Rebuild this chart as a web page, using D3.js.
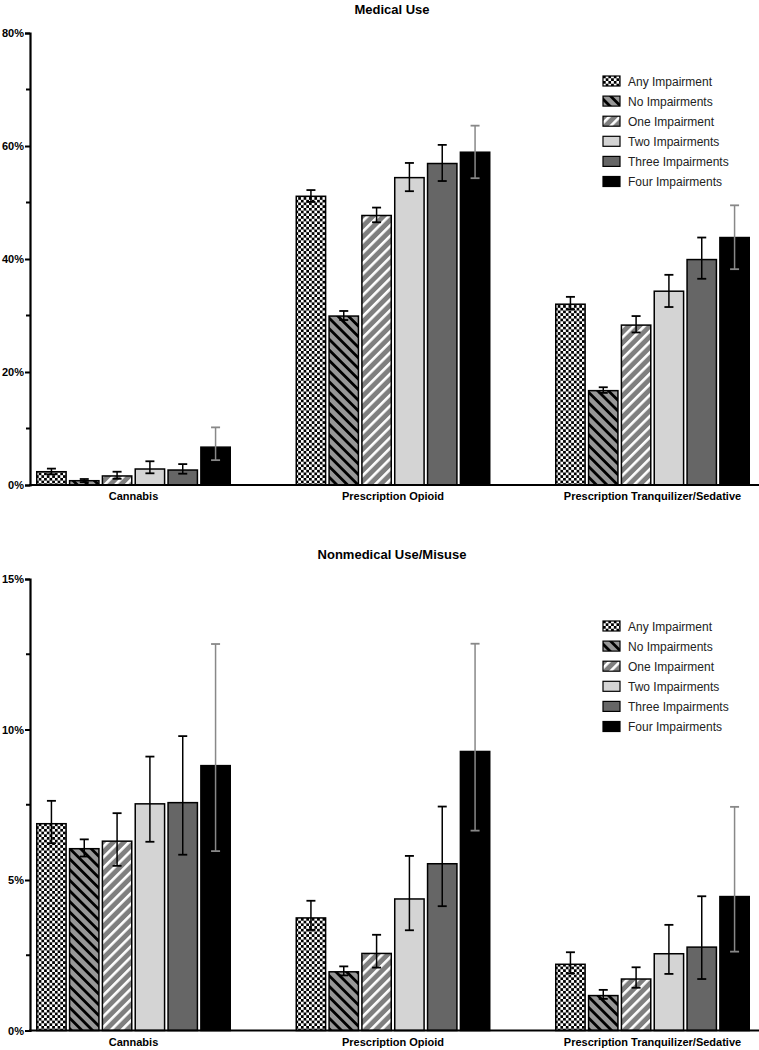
<!DOCTYPE html>
<html><head><meta charset="utf-8">
<script src="https://cdn.jsdelivr.net/npm/d3@7"></script>
<style>body{margin:0;background:#fff}svg{display:block}text{font-family:"Liberation Sans",Arial,sans-serif}</style>
</head><body>
<svg id="chart" width="759" height="1050"></svg>
<script>
const categories = ["Cannabis","Prescription Opioid","Prescription Tranquilizer/Sedative"];
const seriesNames = ["Any Impairment","No Impairments","One Impairment","Two Impairments","Three Impairments","Four Impairments"];

// Medical use (%), per category: values for the six series
const medCannabis = [2.35,0.76,1.6,2.83,2.65,6.7];
const medCannabisLo = [1.9,0.5,1.1,2.07,2.0,4.4];
const medCannabisHi = [2.9,1.06,2.35,4.2,3.7,10.2];
const medOpioid = [51.1,29.9,47.7,54.4,56.9,58.9];
const medOpioidLo = [50.1,29.2,46.5,52.0,53.8,54.3];
const medOpioidHi = [52.2,30.8,49.1,57.0,60.2,63.6];
const medTranq = [32.0,16.7,28.3,34.3,39.9,43.8];
const medTranqLo = [31.1,16.3,27.0,31.5,36.5,38.2];
const medTranqHi = [33.3,17.3,29.9,37.2,43.8,49.5];

// Nonmedical use/misuse (%)
const nonCannabis = [6.87,6.04,6.29,7.53,7.57,8.80];
const nonCannabisLo = [6.22,5.78,5.47,6.27,5.84,5.96];
const nonCannabisHi = [7.63,6.35,7.22,9.10,9.78,12.84];
const nonOpioid = [3.74,1.95,2.56,4.37,5.54,9.27];
const nonOpioidLo = [3.34,1.83,2.09,3.33,4.13,6.64];
const nonOpioidHi = [4.31,2.13,3.18,5.80,7.44,12.85];
const nonTranq = [2.20,1.16,1.71,2.55,2.77,4.45];
const nonTranqLo = [1.90,1.05,1.42,1.88,1.71,2.62];
const nonTranqHi = [2.60,1.35,2.10,3.51,4.46,7.43];

const medTicks = [0,20,40,60,80];
const medMinor = [10,30,50,70];
const nonTicks = [0,5,10,15];
const nonMinor = [2.5,7.5,12.5];

const svg = d3.select("#chart");
const defs = svg.append("defs");

// patterns
const chk = defs.append("pattern").attr("id","pAny").attr("patternUnits","userSpaceOnUse").attr("width",5.4).attr("height",5.4);
chk.append("rect").attr("width",5.4).attr("height",5.4).attr("fill","#fff");
chk.append("rect").attr("width",2.7).attr("height",2.7).attr("fill","#000");
chk.append("rect").attr("x",2.7).attr("y",2.7).attr("width",2.7).attr("height",2.7).attr("fill","#000");

const pNo = defs.append("pattern").attr("id","pNo").attr("patternUnits","userSpaceOnUse").attr("width",7.5).attr("height",7.5).attr("patternTransform","rotate(-45)");
pNo.append("rect").attr("width",7.5).attr("height",7.5).attr("fill","#979797");
pNo.append("rect").attr("x",0).attr("width",2.8).attr("height",7.5).attr("fill","#000");

const pOne = defs.append("pattern").attr("id","pOne").attr("patternUnits","userSpaceOnUse").attr("width",7.5).attr("height",7.5).attr("patternTransform","rotate(45)");
pOne.append("rect").attr("width",7.5).attr("height",7.5).attr("fill","#7f7f7f");
pOne.append("rect").attr("x",0).attr("width",2.6).attr("height",7.5).attr("fill","#fff");

const fills = ["url(#pAny)","url(#pNo)","url(#pOne)","#d4d4d4","#666666","#000000"];
const errColor = ["#000","#000","#000","#000","#000","#888"];

const x0 = d3.scaleBand().domain(categories).range([36,750]).paddingInner(0.2486).paddingOuter(0);
const x1 = d3.scaleBand().domain(seriesNames).range([0,x0.bandwidth()]).paddingInner(0.06).paddingOuter(0);

function panel(opts){
  const y = d3.scaleLinear().domain(opts.domain).range([opts.base, opts.top]);
  const g = svg.append("g");
  // title
  g.append("text").attr("x",392).attr("y",opts.titleY).attr("text-anchor","middle")
    .attr("font-size",13).attr("font-weight","bold").text(opts.title);
  // bars
  const rows = categories.map((c,i)=>({cat:c, vals:opts.vals[i], lo:opts.lo[i], hi:opts.hi[i]}));
  const grp = g.selectAll("g.cat").data(rows).join("g").attr("transform",d=>`translate(${x0(d.cat)},0)`);
  grp.selectAll("rect").data(d=>d.vals.map((v,j)=>({s:seriesNames[j],v,j}))).join("rect")
    .attr("x",d=>x1(d.s)+0.75).attr("width",x1.bandwidth()-1.5)
    .attr("y",d=>y(d.v)).attr("height",d=>y(0)-y(d.v))
    .attr("fill",d=>fills[d.j]).attr("stroke","#000").attr("stroke-width",1.5);
  const eb = grp.selectAll("g.err").data(d=>d.vals.map((v,j)=>({s:seriesNames[j],lo:d.lo[j],hi:d.hi[j],j}))).join("g");
  eb.append("line").attr("x1",d=>x1(d.s)+x1.bandwidth()/2).attr("x2",d=>x1(d.s)+x1.bandwidth()/2)
    .attr("y1",d=>y(d.lo)).attr("y2",d=>y(d.hi)).attr("stroke",d=>errColor[d.j]).attr("stroke-width",1.5);
  ["lo","hi"].forEach(k=>{
    eb.append("line").attr("x1",d=>x1(d.s)+x1.bandwidth()/2-4.5).attr("x2",d=>x1(d.s)+x1.bandwidth()/2+4.5)
      .attr("y1",d=>y(d[k])).attr("y2",d=>y(d[k])).attr("stroke",d=>errColor[d.j]).attr("stroke-width",1.8);
  });
  // y axis
  const ax = d3.axisLeft(y).tickValues(opts.ticks).tickFormat(d=>d+"%").tickSize(5).tickPadding(1);
  const ag = g.append("g").attr("transform","translate(30,0)").call(ax);
  ag.select(".domain").attr("stroke-width",2.2);
  ag.selectAll(".tick line").attr("stroke-width",2);
  ag.selectAll(".tick text").attr("font-size",11).attr("font-weight","bold").attr("font-family","Liberation Sans, Arial, sans-serif").attr("fill","#000");
  const mg = g.append("g").attr("transform","translate(30,0)");
  mg.selectAll("line").data(opts.minor).join("line").attr("x1",-4).attr("x2",0)
    .attr("y1",d=>y(d)).attr("y2",d=>y(d)).attr("stroke","#000").attr("stroke-width",2);
  // x axis
  g.append("line").attr("x1",29).attr("x2",759).attr("y1",y(0)).attr("y2",y(0)).attr("stroke","#000").attr("stroke-width",2.2);
  g.selectAll("text.cat").data(categories).join("text").attr("class","cat")
    .attr("x",d=>x0(d)+x0.bandwidth()/2).attr("y",y(0)+15).attr("text-anchor","middle")
    .attr("font-size",11).attr("font-weight","bold").text(d=>d);
  // legend
  const lg = g.append("g").attr("transform",`translate(603,${opts.legendY})`);
  const li = lg.selectAll("g").data(seriesNames).join("g").attr("transform",(d,i)=>`translate(0,${i*20.1})`);
  li.append("rect").attr("x",0).attr("y",-5).attr("width",17).attr("height",10)
    .attr("fill",(d,i)=>fills[i]).attr("stroke","#000").attr("stroke-width",1.2);
  li.append("text").attr("x",25).attr("y",4.5).attr("font-size",12).attr("fill","#222").text(d=>d);
}

panel({title:"Medical Use", titleY:14, domain:[0,80], base:485, top:33, ticks:medTicks, minor:medMinor,
  vals:[medCannabis,medOpioid,medTranq], lo:[medCannabisLo,medOpioidLo,medTranqLo], hi:[medCannabisHi,medOpioidHi,medTranqHi], legendY:81});
panel({title:"Nonmedical Use/Misuse", titleY:559, domain:[0,15], base:1030.5, top:579, ticks:nonTicks, minor:nonMinor,
  vals:[nonCannabis,nonOpioid,nonTranq], lo:[nonCannabisLo,nonOpioidLo,nonTranqLo], hi:[nonCannabisHi,nonOpioidHi,nonTranqHi], legendY:626});
</script>
</body></html>
